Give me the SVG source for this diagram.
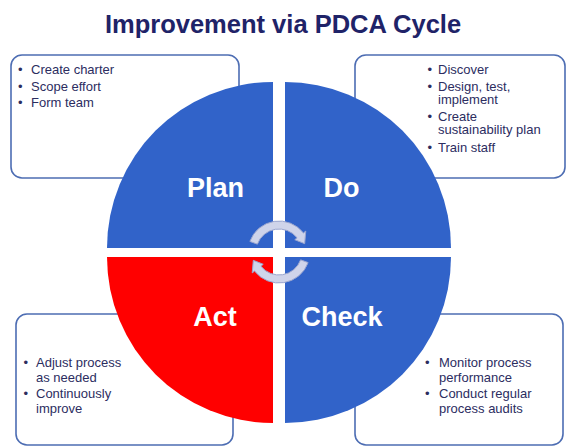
<svg xmlns="http://www.w3.org/2000/svg" width="566" height="447" viewBox="0 0 566 447">
<style>
.title{font-family:"Liberation Sans",Arial,sans-serif;font-weight:bold;font-size:25.5px;fill:#1f2368}
.box{fill:#ffffff;stroke:#4d6db3;stroke-width:1.6}
.txt{font-family:"Liberation Sans",Arial,sans-serif;font-size:13px;fill:#2c2d5f}
.blue{fill:#3163c9}
.red{fill:#ff0000}
.lbl{font-family:"Liberation Sans",Arial,sans-serif;font-weight:bold;font-size:27px;fill:#ffffff;text-anchor:middle}
.arr{fill:#cfd4ea;stroke:#9aa5cf;stroke-width:1}
</style>
<defs>
<path id="cyc" class="arr" d="M249.87 241.40 A31 31 0 0 1 303.43 232.91 L305.79 231.07 L304.68 243.66 L294.76 239.69 L297.12 237.84 A23 23 0 0 0 257.39 244.13 Z"/>
</defs>
<rect width="566" height="447" fill="#ffffff"/>
<text class="title" x="283" y="33" text-anchor="middle">Improvement via PDCA Cycle</text>

<g id="box-plan">
<rect class="box" x="11" y="55" width="228" height="123" rx="11"/>
<text class="txt" x="18" y="74">•</text><text class="txt" x="31" y="74">Create charter</text>
<text class="txt" x="18" y="90.5">•</text><text class="txt" x="31" y="90.5">Scope effort</text>
<text class="txt" x="18" y="107">•</text><text class="txt" x="31" y="107">Form team</text>
</g>
<g id="box-do">
<rect class="box" x="355" y="55" width="210" height="123" rx="11"/>
<text class="txt" x="427.5" y="74">•</text><text class="txt" x="438" y="74">Discover</text>
<text class="txt" x="427.5" y="90.5">•</text><text class="txt" x="438" y="90.5">Design, test,</text>
<text class="txt" x="438" y="104">implement</text>
<text class="txt" x="427.5" y="120.5">•</text><text class="txt" x="438" y="120.5">Create</text>
<text class="txt" x="438" y="134">sustainability plan</text>
<text class="txt" x="427.5" y="151.5">•</text><text class="txt" x="438" y="151.5">Train staff</text>
</g>
<g id="box-act">
<rect class="box" x="16" y="314" width="217" height="131" rx="11"/>
<text class="txt" x="23.5" y="367">•</text><text class="txt" x="36" y="367">Adjust process</text>
<text class="txt" x="36" y="382">as needed</text>
<text class="txt" x="23.5" y="398">•</text><text class="txt" x="36" y="398">Continuously</text>
<text class="txt" x="36" y="413">improve</text>
</g>
<g id="box-check">
<rect class="box" x="355" y="314" width="208" height="131" rx="11"/>
<text class="txt" x="425" y="367">•</text><text class="txt" x="439" y="367">Monitor process</text>
<text class="txt" x="439" y="382">performance</text>
<text class="txt" x="425" y="398">•</text><text class="txt" x="439" y="398">Conduct regular</text>
<text class="txt" x="439" y="413">process audits</text>
</g>

<g id="plan">
<path class="blue" d="M273 248 L107 248 A166 166 0 0 1 273 82 Z"/>
<text class="lbl" x="215.5" y="197">Plan</text>
</g>
<g id="do">
<path class="blue" d="M285 248 L285 82 A166 166 0 0 1 451 248 Z"/>
<text class="lbl" x="341.5" y="197">Do</text>
</g>
<g id="act">
<path class="red" d="M273 257 L273 423 A166 166 0 0 1 107 257 Z"/>
<text class="lbl" x="215" y="326">Act</text>
</g>
<g id="check">
<path class="blue" d="M285 257 L451 257 A166 166 0 0 1 285 423 Z"/>
<text class="lbl" x="342" y="326">Check</text>
</g>

<g id="connectors">
<use href="#cyc"/>
<use href="#cyc" transform="rotate(180 279 252)"/>
</g>
</svg>
